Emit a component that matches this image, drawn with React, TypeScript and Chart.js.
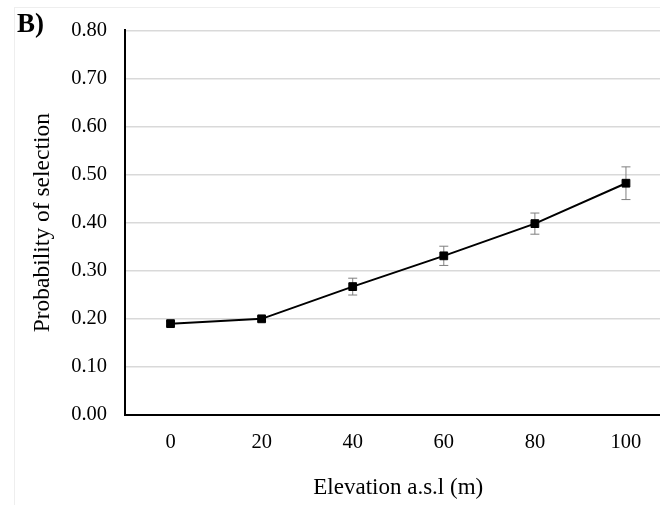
import React, { useEffect, useRef } from "react";
import { Chart, registerables } from "chart.js";

Chart.register(...registerables);

// ---- data ----
const elevations = ["0", "20", "40", "60", "80", "100"];
const probability = [0.19, 0.2, 0.267, 0.331, 0.398, 0.482];
const errors = [0.005, 0.005, 0.0175, 0.02, 0.022, 0.034];
const yMin = 0;
const yMax = 0.8;
const yStep = 0.1;
const panelLabel = "B)";
const xTitle = "Elevation a.s.l (m)";
const yTitle = "Probability of selection";

const FONT = '"Liberation Serif", "Times New Roman", serif';

const errorBarPlugin = {
  id: "errorBars",
  beforeDatasetsDraw(chart: any) {
    const meta = chart.getDatasetMeta(0);
    const yScale = chart.scales.y;
    const ctx = chart.ctx;
    ctx.save();
    ctx.strokeStyle = "#7f7f7f";
    ctx.lineWidth = 1;
    const cap = 4.5;
    meta.data.forEach((pt: any, i: number) => {
      const v = probability[i];
      const e = errors[i];
      const x = pt.x;
      const yTop = yScale.getPixelForValue(v + e);
      const yBot = yScale.getPixelForValue(v - e);
      ctx.beginPath();
      ctx.moveTo(x, yTop);
      ctx.lineTo(x, yBot);
      ctx.moveTo(x - cap, yTop);
      ctx.lineTo(x + cap, yTop);
      ctx.moveTo(x - cap, yBot);
      ctx.lineTo(x + cap, yBot);
      ctx.stroke();
    });
    ctx.restore();
  },
};

export default function App() {
  const ref = useRef<HTMLCanvasElement>(null);

  useEffect(() => {
    if (!ref.current) return;
    const chart = new Chart(ref.current, {
      type: "line",
      data: {
        labels: elevations,
        datasets: [
          {
            data: probability,
            borderColor: "#000",
            borderWidth: 2,
            pointStyle: "rect",
            pointRadius: 5.5,
            pointBackgroundColor: "#000",
            pointBorderColor: "#000",
            pointBorderWidth: 1,
            tension: 0,
            fill: false,
          },
        ],
      },
      options: {
        responsive: false,
        animation: false,
        devicePixelRatio: 1,
        layout: { padding: { top: 30, left: 0, right: 0, bottom: 0 } },
        plugins: {
          legend: { display: false },
          tooltip: { enabled: false },
        },
        scales: {
          x: {
            type: "category",
            offset: true,
            grid: { display: false, drawTicks: false },
            border: { display: true, color: "#000", width: 2 },
            ticks: {
              color: "#000",
              font: { family: FONT, size: 20.5 },
              padding: 15,
            },
            title: {
              display: true,
              text: xTitle,
              color: "#000",
              font: { family: FONT, size: 23 },
              padding: { top: 0, bottom: 3 },
            },
            afterFit: (s: any) => {
              s.height = 90;
            },
          },
          y: {
            min: yMin,
            max: yMax,
            ticks: {
              stepSize: yStep,
              color: "#000",
              font: { family: FONT, size: 20.5 },
              padding: 18,
              callback: (v: any) => Number(v).toFixed(2),
            },
            grid: { color: "#d9d9d9", lineWidth: 1.5, drawTicks: false },
            border: { display: true, color: "#000", width: 2 },
            title: {
              display: true,
              text: yTitle,
              color: "#000",
              font: { family: FONT, size: 23.5 },
              padding: { top: 29, bottom: 0 },
            },
            afterFit: (s: any) => {
              s.width = 125;
            },
          },
        },
      } as any,
      plugins: [errorBarPlugin],
    });
    return () => chart.destroy();
  }, []);

  return (
    <div
      style={{
        position: "fixed",
        left: 0,
        top: 0,
        width: 660,
        height: 505,
        overflow: "hidden",
        background: "#fff",
      }}
    >
      <canvas
        ref={ref}
        width={678}
        height={505}
        style={{ display: "block", position: "absolute", left: 0, top: 0 }}
      />
      <div
        style={{
          position: "absolute",
          left: 14,
          top: 7,
          width: 700,
          height: 600,
          borderLeft: "1px solid #eeeeee",
          borderTop: "1px solid #eeeeee",
          pointerEvents: "none",
        }}
      />
      <div
        style={{
          position: "absolute",
          left: 17,
          top: 10,
          fontFamily: FONT,
          fontWeight: "bold",
          fontSize: 27,
          lineHeight: 1,
          color: "#000",
        }}
      >
        {panelLabel}
      </div>
    </div>
  );
}
